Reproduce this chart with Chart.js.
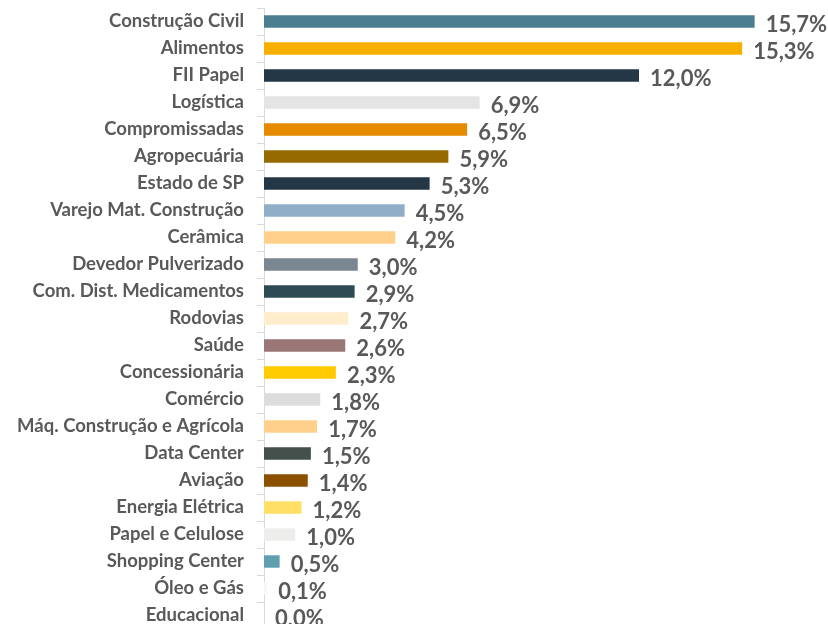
<!DOCTYPE html>
<html>
<head>
<meta charset="utf-8">
<script src="https://cdn.jsdelivr.net/npm/chart.js@4/dist/chart.umd.min.js"></script>
<style>
html,body{margin:0;padding:0;background:#fff;overflow:hidden;}
#wrap{width:828px;height:640px;}
</style>
</head>
<body>
<div id="wrap"><canvas id="c" width="828" height="640"></canvas></div>
<script>
const categories = ["Construção Civil","Alimentos","FII Papel","Logística","Compromissadas","Agropecuária","Estado de SP","Varejo Mat. Construção","Cerâmica","Devedor Pulverizado","Com. Dist. Medicamentos","Rodovias","Saúde","Concessionária","Comércio","Máq. Construção e Agrícola","Data Center","Aviação","Energia Elétrica","Papel e Celulose","Shopping Center","Óleo e Gás","Educacional"];
const values = [15.7,15.3,12.0,6.9,6.5,5.9,5.3,4.5,4.2,3.0,2.9,2.7,2.6,2.3,1.8,1.7,1.5,1.4,1.2,1.0,0.5,0.1,0.0];
const barColors = ["#4B7F8F","#F9AF00","#243746","#E4E4E4","#E68A00","#976A00","#243746","#91AEC8","#FFD08C","#7A8690","#2E4B55","#FFEDCC","#9A7677","#FFCB00","#DCDCDC","#FFD08C","#454F4C","#8B5000","#FFDF66","#EDEDEB","#5E9FB1","#F7F7F7","#F7F7F7"];

const valueLabels = {
  id: 'valueLabels',
  afterDatasetsDraw(chart) {
    const ctx = chart.ctx;
    const meta = chart.getDatasetMeta(0);
    ctx.save();
    ctx.font = 'bold 22px Lato';
    ctx.fillStyle = '#595959';
    ctx.textAlign = 'left';
    ctx.textBaseline = 'middle';
    meta.data.forEach((el, i) => {
      const v = chart.data.datasets[0].data[i];
      const t = v.toFixed(1).replace('.', ',') + '%';
      ctx.fillText(t, el.x + 11, el.y + 3);
    });
    ctx.restore();
  }
};

new Chart(document.getElementById('c'), {
  type: 'bar',
  data: {
    labels: categories,
    datasets: [{
      data: values,
      backgroundColor: barColors,
      borderWidth: 0,
      categoryPercentage: 1,
      barPercentage: 0.46
    }]
  },
  options: {
    indexAxis: 'y',
    responsive: false,
    animation: false,
    layout: { padding: { top: 8, bottom: 11, right: 64, left: 0 } },
    plugins: { legend: { display: false }, tooltip: { enabled: false } },
    scales: {
      x: { display: false, min: 0, max: 16 },
      y: {
        afterFit(scale) { scale.width = 264; scale.paddingTop = 0; scale.paddingBottom = 0; },
        border: { display: true, color: '#D9D9D9', width: 1 },
        grid: { offset: true, drawOnChartArea: false, tickLength: 7, color: '#D9D9D9' },
        ticks: { color: '#595959', font: { family: 'Lato', weight: 'bold', size: 18.5 }, padding: 13 }
      }
    }
  },
  plugins: [valueLabels]
});
</script>
</body>
</html>
